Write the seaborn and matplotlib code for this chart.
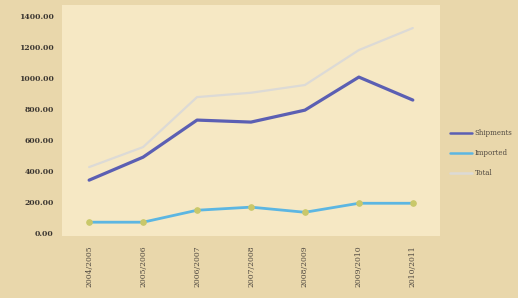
import pandas as pd
import matplotlib.pyplot as plt
import seaborn as sns

# Données
periods = ["2004/2005", "2005/2006", "2006/2007", "2007/2008",
           "2008/2009", "2009/2010", "2010/2011"]
series_a = [342, 490, 729, 716, 793, 1006, 858]
series_b = [71, 71, 148, 168, 135, 193, 193]
total = [426, 555, 877, 905, 955, 1180, 1322]
names = ["Shipments", "Imported", "Total"]
colors = ["#5b5fb3", "#5cb6e2", "#dcdad6"]

sns.set_theme(style="white")
plt.rcParams['font.family'] = ['DejaVu Serif']

rows = []
for name, vals in zip(names, [series_a, series_b, total]):
    for i, v in enumerate(vals):
        rows.append({"period": i, "value": v, "serie": name})
df = pd.DataFrame(rows)

fig = plt.figure(figsize=(5.18, 2.98), dpi=100)
fig.patch.set_facecolor("#e9d7ab")
ax = fig.add_axes([0.12, 0.208, 0.729, 0.775])
ax.set_facecolor("#f6e8c4")

sns.lineplot(data=df, x="period", y="value", hue="serie", palette=colors,
             hue_order=names, ax=ax, legend=False)
lines = ax.get_lines()
lines[0].set_linewidth(2.3)
lines[1].set_linewidth(2.0)
lines[1].set_marker("o")
lines[1].set_markersize(4)
lines[1].set_markerfacecolor("#c9c86a")
lines[1].set_markeredgecolor("#c9c86a")
lines[2].set_linewidth(1.6)

ax.set_xlim(-0.5, 6.5)
ax.set_ylim(-18, 1470)
ax.set_yticks(range(0, 1401, 200))
ax.set_yticklabels([f"{v:.2f}" for v in range(0, 1401, 200)],
                   fontsize=5.5, fontweight="bold", color="#3a3530")
ax.set_xticks(range(len(periods)))
ax.set_xticklabels(periods, rotation=90, fontsize=5.5, color="#4f4840")
ax.tick_params(axis="x", length=0, pad=7)
ax.tick_params(axis="y", length=0, pad=6)
ax.set_xlabel("")
ax.set_ylabel("")
for s in ax.spines.values():
    s.set_visible(False)

for i, (name, c) in enumerate(zip(names, colors)):
    y = 0.554 - i * 0.067
    fig.lines.append(plt.Line2D([0.869, 0.912], [y, y], color=c, lw=1.8,
                                transform=fig.transFigure))
    fig.text(0.916, y, name, fontsize=5, color="#4f4840", va="center")

fig.savefig("out.png", dpi=100, facecolor=fig.get_facecolor())
